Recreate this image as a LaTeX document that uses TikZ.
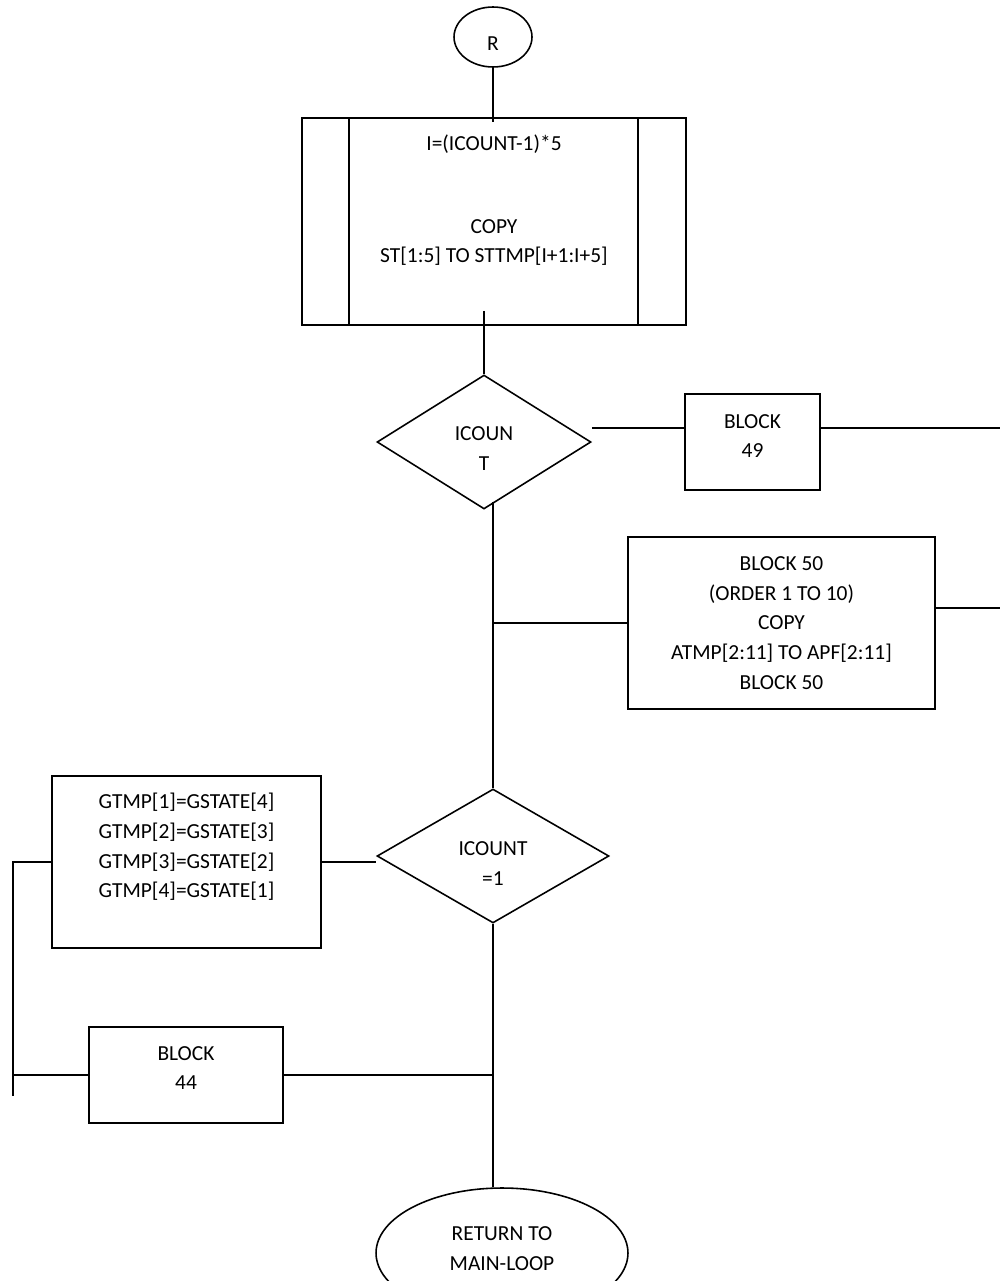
\documentclass[tikz,border=0pt]{standalone}
\usepackage{fontspec}
\setmainfont{Carlito}
\usetikzlibrary{shapes.geometric}

\begin{document}
\begin{tikzpicture}[x=0.02cm, y=-0.02cm, line width=0.9pt,
    every node/.style = {align=center, font=\fontsize{12.2}{17}\selectfont},
    box/.style = {draw, rectangle, inner sep=0pt},
    decision/.style = {draw, diamond, inner sep=0pt},
    terminal/.style = {draw, ellipse, inner sep=0pt},
    subroutine/.style = {box, path picture={
        \draw ([xshift=0.94cm]path picture bounding box.north west) -- ([xshift=0.94cm]path picture bounding box.south west);
        \draw ([xshift=-0.96cm]path picture bounding box.north east) -- ([xshift=-0.96cm]path picture bounding box.south east);}}]
    \useasboundingbox (0,0) rectangle (1000,1281);
    \clip (0,0) rectangle (1000,1281);

    \node[terminal, minimum width=1.56cm, minimum height=1.2cm] (R) at (493,37) {\raisebox{-0.27cm}[0pt][0pt]{R}};
    \node[subroutine, minimum width=7.68cm, minimum height=4.14cm] (init) at (494,221.5)
      {I=(ICOUNT-1)*5\\[29.7pt]COPY\\ST[1:5] TO STTMP[I+1:I+5]\\[8.5pt]\mbox{}};
    \node[decision, minimum width=4.28cm, minimum height=2.68cm] (d1) at (484,442) {\rule{0pt}{15pt}ICOUN\\T};
    \node[box, minimum width=2.7cm, minimum height=1.92cm] (b49) at (752.5,442) {BLOCK\\49\rule[-6.8pt]{0pt}{0pt}};
    \node[box, minimum width=6.14cm, minimum height=3.44cm] (b50) at (781.5,623)
      {BLOCK 50\\(ORDER 1 TO 10)\\COPY\\ATMP[2:11] TO APF[2:11]\\BLOCK 50};
    \node[decision, minimum width=4.64cm, minimum height=2.68cm] (d2) at (493,856) {\rule{0pt}{16.2pt}ICOUNT\\=1};
    \node[box, minimum width=5.38cm, minimum height=3.44cm] (gtmp) at (186.5,862)
      {GTMP[1]=GSTATE[4]\\GTMP[2]=GSTATE[3]\\GTMP[3]=GSTATE[2]\\GTMP[4]=GSTATE[1]\\[2pt]\mbox{}};
    \node[box, minimum width=3.88cm, minimum height=1.92cm] (b44) at (186,1075) {BLOCK\\44\rule[-8pt]{0pt}{0pt}};
    \node[terminal, minimum width=5.04cm, minimum height=2.6cm] (ret) at (502,1253) {RETURN TO\\MAIN-LOOP\rule[-5pt]{0pt}{0pt}};

    % loose ends
    \coordinate (r49) at (1000,428);
    \coordinate (r50) at (1000,608);
    \coordinate (lft) at (13,1096);

    \draw (R.south) -- ([yshift=-0.1cm]init.north -| R.south);
    \draw ([yshift=0.3cm]init.south -| d1.north) -- (d1.north);
    \draw ([yshift=0.28cm]d1.east) -- ([yshift=0.28cm]b49.west);
    \draw (b49.east |- r49) -- (r49);
    \draw ([yshift=0.16cm]d1.south -| d2.north) -- (d2.north);
    \draw (b50.west -| d2.north) -- (b50.west);
    \draw (b50.east |- r50) -- (r50);
    \draw (gtmp.east) -- (gtmp.east -| d2.west);
    \draw (gtmp.west) -- (gtmp.west -| lft) -- (lft);
    \draw (b44.west -| lft) -- (b44.west);
    \draw (b44.east) -- (b44.east -| d2.south);
    \draw (d2.south) -- (d2.south |- ret.north);
\end{tikzpicture}
\end{document}
